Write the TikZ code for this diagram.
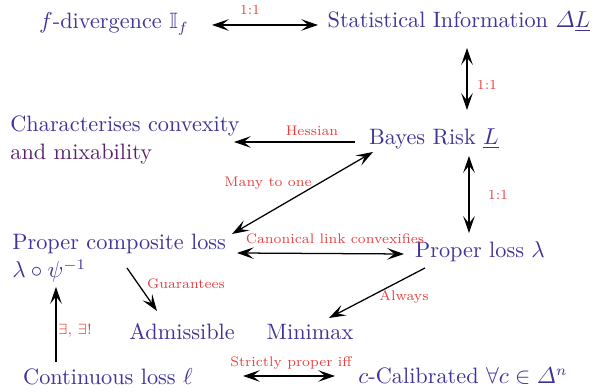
\documentclass[tikz,border=0pt]{standalone}
\usepackage{amsmath,amssymb}
\usetikzlibrary{arrows.meta}
\definecolor{txtblue}{RGB}{62,52,150}
\definecolor{txtpurple}{RGB}{88,36,104}
\definecolor{lblred}{RGB}{232,64,64}
\tikzset{
  x=0.476pt, y=-0.476pt,
  concept/.style={text=txtblue, inner sep=0pt, font=\fontsize{10.6}{13.2}\selectfont},
  lbl/.style={text=lblred, inner sep=0pt, font=\fontsize{6.6}{8}\selectfont},
  conn/.style={line width=0.6pt, -{Stealth[length=8pt,width=5.5pt,inset=3.4pt]}},
  dconn/.style={line width=0.6pt, {Stealth[length=8pt,width=5.5pt,inset=3.4pt]}-{Stealth[length=8pt,width=5.5pt,inset=3.4pt]}},
}
\begin{document}
\begin{tikzpicture}
\useasboundingbox (0,0) rectangle (601,392);
% nodes
\node[concept] (fdiv) at (114,24) {$f$-divergence $\mathbb{I}_f$};
\node[concept] (stat) at (459,22) {Statistical Information $\varDelta\underline{L}$};
\node[concept, anchor=west, align=left] (char) at (10,140) {Characterises convexity\\\textcolor{txtpurple}{and mixability}};
\node[concept] (bayes) at (434,139) {Bayes Risk $\underline{L}$};
\node[concept, anchor=west, align=left] (pcl) at (12,258) {Proper composite loss\\$\lambda\circ\psi^{-1}$};
\node[concept] (pl) at (480,252) {Proper loss $\lambda$};
\node[concept] (adm) at (182,332) {Admissible};
\node[concept] (mm) at (310,332) {Minimax};
\node[concept] (cont) at (108,377) {Continuous loss $\ell$};
\node[concept] (cal) at (463,376) {$c$-Calibrated $\forall c\in\varDelta^n$};
% connector endpoints
\coordinate (a1) at (212,25); \coordinate (a2) at (318,25);
\coordinate (b1) at (467,48); \coordinate (b2) at (467,110);
\coordinate (c1) at (355,142); \coordinate (c2) at (234,142);
\coordinate (d1) at (469,156); \coordinate (d2) at (469,233);
\coordinate (e1) at (232,234); \coordinate (e2) at (373,152);
\coordinate (f1) at (237,253); \coordinate (f2) at (404,254);
\coordinate (g1) at (127,268); \coordinate (g2) at (157,311);
\coordinate (h1) at (425,268); \coordinate (h2) at (329,318);
\coordinate (i1) at (56,362); \coordinate (i2) at (56,287);
\coordinate (j1) at (243,376); \coordinate (j2) at (335,376);
% connectors
\draw[dconn] (a1) -- (a2);
\draw[dconn] (b1) -- (b2);
\draw[conn] (c1) -- (c2);
\draw[dconn] (d1) -- (d2);
\draw[dconn] (e1) -- (e2);
\draw[dconn] (f1) -- (f2);
\draw[conn] (g1) -- (g2);
\draw[conn] (h1) -- (h2);
\draw[conn] (i1) -- (i2);
\draw[dconn] (j1) -- (j2);
% labels
\node[lbl] (l1) at (250,10) {1:1};
\node[lbl] (l2) at (487,85) {1:1};
\node[lbl] (l3) at (312,131) {Hessian};
\node[lbl] (l4) at (498,195) {1:1};
\node[lbl] (l5) at (268,183) {Many to one};
\node[lbl] (l6) at (335,239) {Canonical link convexifies};
\node[lbl] (l7) at (186,284) {Guarantees};
\node[lbl] (l8) at (404,297) {Always};
\node[lbl] (l9) at (75,331) {$\exists$, $\exists!$};
\node[lbl] (l10) at (291,363) {Strictly proper iff};
\end{tikzpicture}
\end{document}
